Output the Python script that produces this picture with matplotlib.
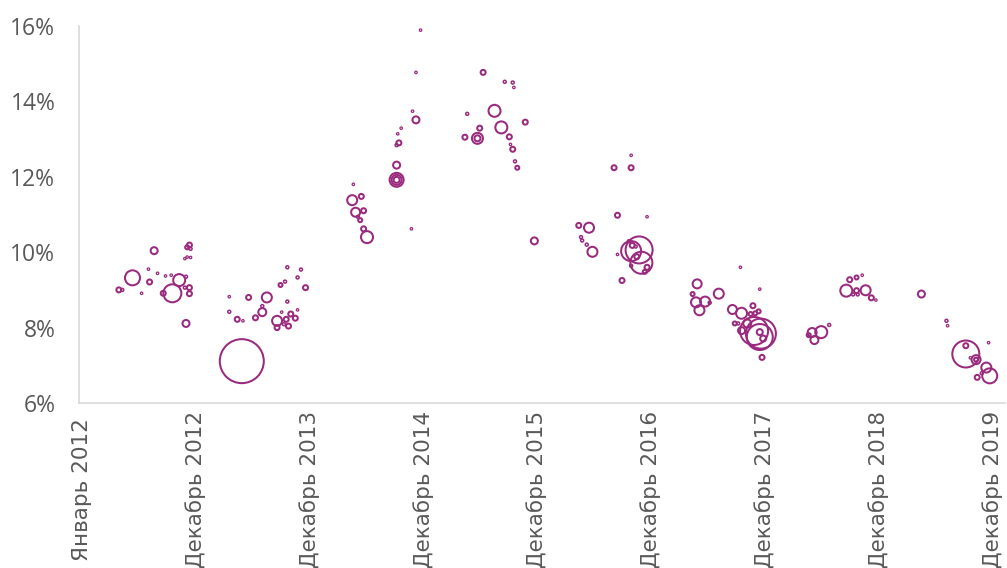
import numpy as np
import pandas as pd
import matplotlib
matplotlib.use("Agg")
import matplotlib.pyplot as plt
import matplotlib.transforms as mtransforms

# ---- data ----
# issue date as decimal year
years = [
    2012.35, 2012.38, 2012.47, 2012.55, 2012.61, 2012.62, 2012.66, 2012.69, 2012.74, 2012.76,
    2012.81, 2012.82, 2012.88, 2012.94, 2012.93, 2012.97, 2012.97, 2012.97, 2012.95, 2012.98,
    2012.93, 2012.95, 2012.98, 2012.94,
    2013.32, 2013.32, 2013.39, 2013.44, 2013.49, 2013.43, 2013.55, 2013.61, 2013.61, 2013.65,
    2013.74, 2013.74, 2013.77, 2013.78, 2013.80, 2013.81, 2013.82, 2013.83, 2013.83, 2013.84,
    2013.86, 2013.90, 2013.92, 2013.92, 2013.95, 2013.99,
    2014.40, 2014.41, 2014.43, 2014.45, 2014.47, 2014.48, 2014.50, 2014.50, 2014.53, 2014.79,
    2014.79, 2014.79, 2014.79, 2014.79, 2014.81, 2014.80, 2014.83, 2014.92, 2014.93, 2014.96,
    2014.96, 2015.00,
    2015.39, 2015.41, 2015.50, 2015.50, 2015.52, 2015.55, 2015.65, 2015.71, 2015.74, 2015.78,
    2015.79, 2015.81, 2015.82, 2015.81, 2015.83, 2015.85, 2015.92, 2016.00,
    2016.39, 2016.41, 2016.42, 2016.46, 2016.48, 2016.51, 2016.70, 2016.73, 2016.73, 2016.77,
    2016.83, 2016.85, 2016.85, 2016.85, 2016.86, 2016.89, 2016.90, 2016.92, 2016.94, 2016.85,
    2016.99, 2016.97, 2016.99,
    2017.39, 2017.42, 2017.43, 2017.45, 2017.50, 2017.54, 2017.62, 2017.74, 2017.76, 2017.79,
    2017.81, 2017.82, 2017.82, 2017.87, 2017.90, 2017.92, 2017.94, 2017.97, 2017.93, 2017.99,
    2017.98, 2017.98, 2018.01, 2017.98, 2018.00,
    2018.41, 2018.44, 2018.46, 2018.52, 2018.59, 2018.74, 2018.77, 2018.80, 2018.83, 2018.83,
    2018.84, 2018.88, 2018.91, 2018.96, 2019.00,
    2019.40, 2019.62, 2019.63, 2019.79, 2019.79, 2019.83, 2019.88, 2019.88, 2019.89, 2019.93,
    2019.97, 2020.00, 2019.99,
]
# yield, %
rates = [
    9.00, 9.00, 9.32, 8.91, 9.55, 9.21, 10.04, 9.44, 8.91, 9.37,
    9.39, 8.91, 9.26, 9.35, 9.06, 9.06, 8.90, 10.19, 10.13, 10.09,
    9.83, 9.87, 9.86, 8.11,
    8.82, 8.42, 8.22, 8.18, 8.80, 7.11, 8.26, 8.57, 8.41, 8.80,
    8.18, 8.00, 9.13, 8.41, 8.09, 9.22, 8.22, 9.60, 8.69, 8.04,
    8.36, 8.25, 9.33, 8.47, 9.54, 9.06,
    11.38, 11.80, 11.06, 10.94, 10.85, 11.48, 11.10, 10.62, 10.40, 11.92,
    11.92, 11.92, 12.31, 12.84, 12.90, 13.14, 13.29, 10.62, 13.74, 13.51,
    14.77, 15.89,
    13.05, 13.67, 13.02, 13.02, 13.29, 14.77, 13.75, 13.31, 14.52, 13.06,
    12.86, 14.50, 14.37, 12.73, 12.41, 12.24, 13.45, 10.30,
    10.71, 10.40, 10.31, 10.20, 10.65, 10.01, 12.24, 10.98, 9.94, 9.25,
    10.29, 12.57, 12.24, 10.03, 10.18, 10.15, 9.88, 10.06, 9.72, 9.64,
    9.60, 9.48, 10.94,
    8.89, 8.67, 9.16, 8.46, 8.69, 8.66, 8.90, 8.48, 8.11, 8.11,
    9.60, 8.38, 7.92, 8.11, 8.36, 8.58, 8.38, 8.43, 7.91, 7.84,
    7.75, 7.88, 7.71, 9.02, 7.21,
    7.80, 7.87, 7.67, 7.88, 8.07, 8.98, 9.27, 8.88, 8.98, 9.33,
    8.88, 9.39, 8.99, 8.79, 8.73,
    8.89, 8.18, 8.05, 7.30, 7.52, 7.20, 7.15, 7.15, 6.68, 6.79,
    6.94, 6.72, 7.60,
]
# bubble size (issue volume, relative units)
sizes = [
    25, 9, 225, 6, 6, 25, 49, 6, 25, 6,
    6, 324, 144, 9, 9, 25, 25, 25, 16, 9,
    6, 6, 6, 49,
    6, 9, 25, 6, 25, 1936, 25, 9, 64, 100,
    100, 25, 16, 6, 9, 9, 25, 9, 9, 25,
    25, 25, 9, 6, 9, 25,
    100, 6, 81, 9, 16, 25, 25, 25, 144, 196,
    100, 36, 49, 9, 25, 6, 6, 6, 6, 49,
    6, 6,
    25, 9, 121, 36, 25, 25, 144, 144, 9, 25,
    6, 9, 6, 25, 9, 16, 25, 49,
    25, 9, 9, 9, 100, 100, 25, 25, 6, 25,
    9, 6, 25, 400, 25, 9, 25, 729, 484, 9,
    25, 16, 6,
    16, 100, 81, 100, 100, 9, 100, 81, 16, 9,
    6, 121, 49, 64, 16, 25, 16, 16, 784, 900,
    676, 36, 36, 6, 25,
    16, 81, 64, 144, 9, 144, 25, 9, 25, 16,
    9, 6, 100, 25, 6,
    49, 9, 6, 729, 25, 6, 81, 16, 25, 9,
    100, 225, 6,
]

tick_labels = ["Январь 2012", "Декабрь 2012", "Декабрь 2013", "Декабрь 2014",
               "Декабрь 2015", "Декабрь 2016", "Декабрь 2017", "Декабрь 2018",
               "Декабрь 2019"]
y_ticks = [6, 8, 10, 12, 14, 16]

# ---- build ----
base = pd.Timestamp("2012-01-01")
yrs = np.array(years)
dates = base + pd.to_timedelta((yrs - 2012) * 365.25, unit="D")
sz = np.array(sizes, dtype=float)
order = np.argsort(-sz)

plt.rcParams["font.family"] = ["Open Sans", "DejaVu Sans"]
fig = plt.figure(figsize=(10.07, 5.68), dpi=100)
ax = fig.add_axes([79 / 1007, 1 - 403 / 568, (1005 - 79) / 1007, (403 - 26) / 568])

color = "#9A2A7E"
d = np.sqrt(sz)
lw = np.minimum(1.45, 0.36 * d)
ax.scatter(dates[order], np.array(rates)[order], s=sz[order] * 0.5184,
           facecolors="none", edgecolors=color, linewidths=lw[order], zorder=3)

tick_dates = [base + pd.Timedelta(days=365 * k) for k in range(len(tick_labels))]
ax.set_xticks(tick_dates)
ax.set_xticklabels(tick_labels, rotation=90, fontsize=15.5, color="#595959",
                   family=["DejaVu Sans"], va="center", ha="center")
ax.set_xlim(base, base + pd.Timedelta(days=2971))
ax.set_ylim(6, 16)
ax.set_yticks(y_ticks)
ax.set_yticklabels([f"{v}%" for v in y_ticks], fontsize=16.5, color="#595959")
ax.tick_params(axis="both", length=0)
ax.tick_params(axis="y", pad=17)
ax.tick_params(axis="x", pad=62)
shift = mtransforms.ScaledTranslation(3 / 100, 0, fig.dpi_scale_trans)
for lab in ax.get_xticklabels():
    lab.set_transform(lab.get_transform() + shift)
for s in ["top", "right"]:
    ax.spines[s].set_visible(False)
for s in ["left", "bottom"]:
    ax.spines[s].set_color("#D9D9D9")
    ax.spines[s].set_linewidth(1.2)

fig.savefig("out.png", dpi=100)
